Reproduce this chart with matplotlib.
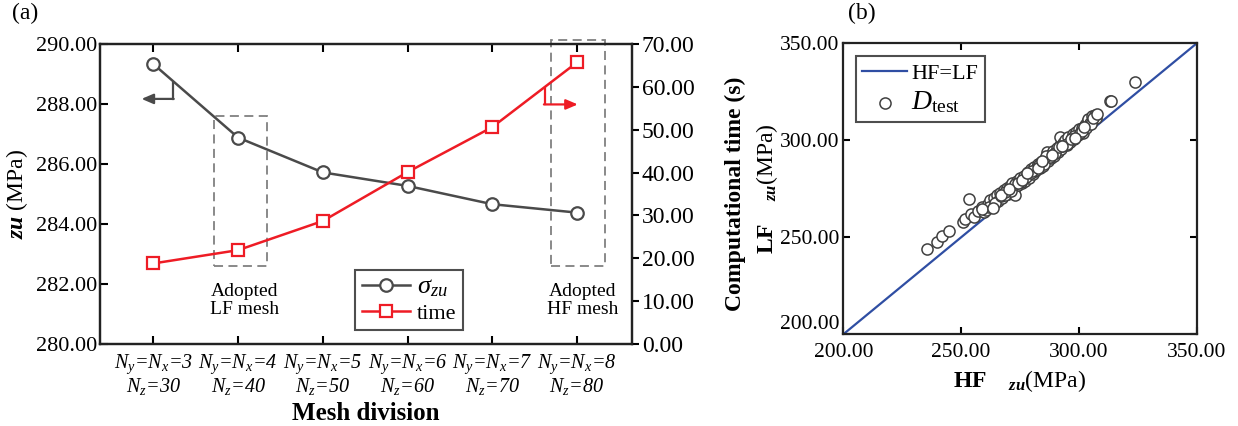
import numpy as np
import matplotlib
matplotlib.use('Agg')
import matplotlib.pyplot as plt
from matplotlib.patches import Rectangle

plt.rcParams['font.family'] = ['Liberation Serif', 'DejaVu Serif']
plt.rcParams['mathtext.fontset'] = 'custom'
plt.rcParams['mathtext.rm'] = 'Liberation Serif'
plt.rcParams['mathtext.it'] = 'Liberation Serif:italic'
plt.rcParams['mathtext.bf'] = 'Liberation Serif:bold'
plt.rcParams['mathtext.bfit'] = 'Liberation Serif:italic:bold'

# (a) mesh convergence data
mesh_xy = [3, 4, 5, 6, 7, 8]
mesh_z = [30, 40, 50, 60, 70, 80]
sigma_zu = [289.33, 286.88, 285.72, 285.27, 284.66, 284.38]
comp_time = [18.8, 21.9, 28.7, 40.1, 50.6, 65.7]

# (b) LF vs HF predictions on the test set
hf = [235.4, 239.6, 241.8, 245.0, 250.9, 251.5, 253.4, 254.1, 255.5, 257.0,
      258.7, 259.5, 260.5, 261.2, 262.3, 263.0, 264.0, 265.1, 265.8, 266.5,
      267.5, 268.0, 269.4, 270.0, 270.8, 271.5, 272.3, 272.9, 273.5, 274.3,
      275.0, 275.8, 276.5, 277.2, 277.8, 278.5, 279.0, 279.8, 280.5, 281.0,
      281.5, 282.1, 282.8, 283.5, 284.0, 284.8, 285.5, 286.3, 286.3, 287.0,
      287.5, 288.2, 288.8, 289.5, 289.9, 290.5, 291.0, 291.8, 292.0, 292.5,
      293.4, 294.0, 294.8, 295.5, 296.2, 296.9, 297.5, 298.0, 298.8, 299.5,
      300.2, 301.2, 301.8, 302.5, 303.3, 304.0, 304.5, 305.5, 306.0, 306.8,
      307.2, 313.2, 313.8, 323.8,
      262.0, 264.5, 266.8, 268.8, 271.0, 273.0, 275.5, 277.5, 279.5, 281.8,
      283.0, 285.0, 287.8, 290.0, 292.8, 295.0, 297.8, 300.5, 303.0, 305.0,
      268.5, 274.0, 280.0, 286.0, 291.5, 296.5, 301.5,
      259.0, 263.5, 267.0, 270.5, 276.0, 278.0, 282.5, 284.5, 288.5, 293.0,
      298.5, 302.0, 305.8, 307.5]
lf = [243.8, 247.7, 250.5, 253.4, 257.7, 259.5, 269.6, 262.0, 260.5, 263.5,
      265.8, 262.8, 264.0, 267.0, 269.2, 266.0, 270.5, 271.8, 268.5, 273.0,
      270.0, 274.5, 275.3, 272.5, 276.5, 278.0, 274.5, 271.8, 279.0, 277.0,
      280.5, 277.8, 281.5, 279.0, 282.1, 283.5, 280.5, 285.0, 282.5, 286.0,
      284.0, 286.4, 288.0, 285.5, 289.0, 287.0, 290.5, 290.7, 294.1, 289.5,
      292.5, 291.0, 294.5, 292.0, 293.3, 296.0, 294.0, 297.5, 301.9, 295.5,
      298.5, 300.0, 297.5, 301.5, 299.0, 301.0, 303.0, 300.5, 304.5, 302.5,
      306.0, 306.2, 304.0, 308.0, 309.6, 311.0, 309.0, 312.5, 310.5, 313.0,
      311.5, 320.4, 320.0, 329.9,
      265.5, 267.5, 271.5, 272.0, 274.0, 277.5, 278.5, 281.0, 283.0, 284.5,
      287.5, 288.0, 291.5, 293.5, 297.0, 298.0, 302.0, 303.5, 306.5, 308.5,
      273.5, 278.0, 284.0, 292.0, 296.5, 300.5, 305.0,
      264.5, 265.0, 272.0, 275.0, 279.5, 283.0, 285.5, 289.5, 292.5, 297.0,
      301.0, 307.0, 311.5, 313.5]

tick_labels = [f"$N_y$=$N_x$={a}\n$N_z$={b}" for a, b in zip(mesh_xy, mesh_z)]

gray = '#4a4a4a'
red = '#ee1c25'

fig = plt.figure(figsize=(12.38, 4.26), dpi=100)

# ---------------- panel (a) ----------------
ax = fig.add_axes([0.0808, 0.1925, 0.4297, 0.7042])
ax2 = ax.twinx()
x = np.arange(1, len(mesh_xy) + 1)

l1, = ax.plot(x, sigma_zu, '-o', color=gray, lw=1.8, ms=9, mfc='white',
              mec=gray, mew=1.6, label=r'$\sigma_{zu}$', zorder=3)
l2, = ax2.plot(x, comp_time, '-s', color=red, lw=1.8, ms=8, mfc='white',
               mec=red, mew=1.6, label='time', zorder=3)

ax.set_xlim(0.37, 6.65)
ax.set_ylim(280, 290)
ax.set_yticks(np.arange(280, 290.1, 2))
ax.set_yticklabels([f"{v:.2f}" for v in np.arange(280, 290.1, 2)], fontsize=16)
ax2.set_ylim(0, 70)
ax2.set_yticks(np.arange(0, 70.1, 10))
ax2.set_yticklabels([f"{v:.2f}" for v in np.arange(0, 70.1, 10)], fontsize=17)
ax.set_xticks(x)
ax.set_xticklabels(tick_labels, fontsize=14.5, fontstyle='italic', linespacing=1.0)

ax.tick_params(axis='x', direction='in', top=True, length=6, width=1.5, pad=6)
ax.tick_params(axis='y', direction='in', length=6, width=1.5, pad=2)
ax2.tick_params(axis='y', direction='out', length=5, width=1.5, pad=2)
for a in (ax, ax2):
    for s in a.spines.values():
        s.set_linewidth(1.6)
        s.set_color('#222222')

ax.set_ylabel(r'$\mathbfit{zu}$ (MPa)', fontsize=17, labelpad=4)
ax2.set_ylabel('Computational time (s)', fontsize=17, fontweight='bold', labelpad=22)
ax.set_xlabel('Mesh division', fontsize=18, fontweight='bold', labelpad=4)

# adopted mesh boxes
ax.add_patch(Rectangle((1.71, 282.61), 0.63, 5.0, fill=False, ls=(0, (5, 3)),
                       ec='#808080', lw=1.3, zorder=2))
ax.add_patch(Rectangle((5.69, 282.61), 0.64, 7.52, fill=False, ls=(0, (5, 3)),
                       ec='#808080', lw=1.3, zorder=2, clip_on=False))
ax.text(2.08, 281.45, 'Adopted\nLF mesh', ha='center', va='center',
        fontsize=14, linespacing=1.05)
ax.text(6.07, 281.45, 'Adopted\nHF mesh', ha='center', va='center',
        fontsize=14, linespacing=1.05)

# axis indicator arrows
ax.plot([1.23, 1.23], [288.7, 288.17], color=gray, lw=1.6)
ax.annotate('', xy=(0.86, 288.17), xytext=(1.24, 288.17),
            arrowprops=dict(arrowstyle='-|>,head_length=0.7,head_width=0.3',
                            color=gray, lw=1.6, shrinkA=0, shrinkB=0))
ax2.plot([5.62, 5.62], [59.7, 55.9], color=red, lw=1.6)
ax2.annotate('', xy=(6.01, 55.9), xytext=(5.61, 55.9),
             arrowprops=dict(arrowstyle='-|>,head_length=0.7,head_width=0.3',
                             color=red, lw=1.6, shrinkA=0, shrinkB=0))

leg = ax2.legend(handles=[l1, l2], loc='lower left', bbox_to_anchor=(0.479, 0.045),
                 fontsize=16, frameon=True, fancybox=False, edgecolor='#222222',
                 handlelength=2.2, borderpad=0.3, labelspacing=0.2,
                 handletextpad=0.3, borderaxespad=0)
leg.get_frame().set_linewidth(1.5)
leg.get_texts()[0].set_fontsize(19)

fig.text(0.01, 0.955, '(a)', fontsize=17)

# ---------------- panel (b) ----------------
bx = fig.add_axes([0.6812, 0.2153, 0.2855, 0.6831])
lims = [200, 350]
bx.plot(lims, lims, color='#2f4ea3', lw=1.6, label='HF=LF', zorder=2)
bx.scatter(hf, lf, s=64, facecolors='white', edgecolors='#404040',
           linewidths=1.1, label=r'$D_{\mathrm{test}}$', zorder=3)
bx.set_xlim(lims)
bx.set_ylim(lims)
ticks = np.arange(200, 350.1, 50)
bx.set_xticks(ticks)
bx.set_yticks(ticks)
bx.set_xticklabels([f"{v:.2f}" for v in ticks], fontsize=15.5)
bx.set_yticklabels([f"{v:.2f}" for v in ticks], fontsize=15.5)
bx.get_yticklabels()[0].set_va('bottom')
bx.tick_params(direction='in', top=True, right=True, length=5, width=1.5, pad=6)
bx.tick_params(axis='y', pad=3)
for s in bx.spines.values():
    s.set_linewidth(1.6)
    s.set_color('#222222')

bx.set_xlabel(r'$\mathbf{HF}\ \ \ \ _{\mathbfit{zu}}$(MPa)', fontsize=17, labelpad=5)
bx.set_ylabel(r'$\mathbf{LF}\ \ \ \ _{\mathbfit{zu}}$(MPa)', fontsize=17, labelpad=0)

leg2 = bx.legend(loc='upper left', bbox_to_anchor=(0.035, 0.955), fontsize=16,
                 frameon=True, fancybox=False, edgecolor='#222222',
                 handlelength=2.0, borderpad=0.3, labelspacing=0.25,
                 handletextpad=0.2, borderaxespad=0)
leg2.get_frame().set_linewidth(1.5)
leg2.get_texts()[1].set_fontsize(20)

fig.text(0.685, 0.955, '(b)', fontsize=17)

fig.savefig('out.png', dpi=100)
